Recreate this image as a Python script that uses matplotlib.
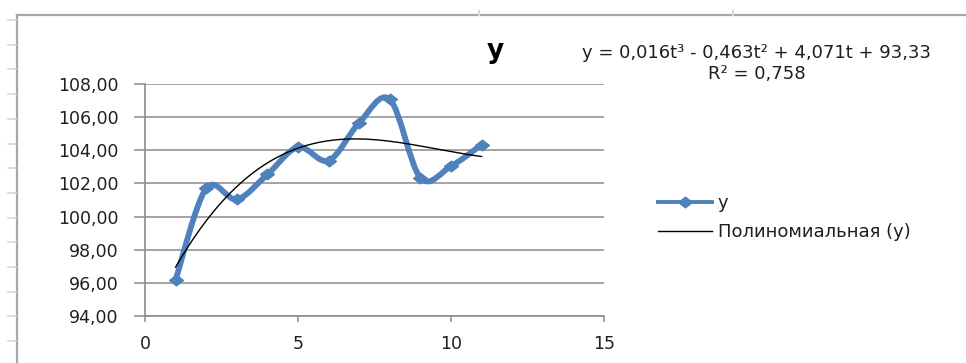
import numpy as np
import matplotlib
matplotlib.use("Agg")
import matplotlib.pyplot as plt
from matplotlib.path import Path
from matplotlib.patches import PathPatch
from matplotlib.lines import Line2D

# Series values
t_values = [1, 2, 3, 4, 5, 6, 7, 8, 9, 10, 11]
y_values = [96.18, 101.70, 101.04, 102.54, 104.19, 103.38, 105.66, 107.07, 102.34, 103.04, 104.34]
series_name = "y"
trend_name = "Полиномиальная (y)"
x_ticks = [0, 5, 10, 15]
y_ticks = [94, 96, 98, 100, 102, 104, 106, 108]

BLUE = "#4F81BD"
GRID = "#8c8c8c"
TEXT = "#1f1f1f"

W, H = 966, 363
fig = plt.figure(figsize=(W / 100, H / 100), dpi=100)
fig.patch.set_facecolor("white")

ax = fig.add_axes([145 / W, 1 - 316 / H, (604 - 145) / W, (316 - 84) / H])
ax.set_xlim(x_ticks[0], x_ticks[-1])
ax.set_ylim(y_ticks[0], y_ticks[-1])
ax.set_xticks(x_ticks)
ax.set_yticks(y_ticks)
ax.set_xticklabels([str(v) for v in x_ticks])
ax.set_yticklabels([f"{v:.2f}".replace(".", ",") for v in y_ticks])

for side in ("top", "right"):
    ax.spines[side].set_visible(False)
for side in ("left", "bottom"):
    ax.spines[side].set_color(GRID)
    ax.spines[side].set_linewidth(1.2)
ax.yaxis.grid(True, color=GRID, linewidth=1.1)
ax.xaxis.grid(False)
ax.set_axisbelow(True)
ax.tick_params(axis="y", direction="out", length=8, width=1.1, color=GRID,
               pad=11, labelsize=12.5, labelcolor=TEXT)
ax.tick_params(axis="x", direction="out", length=4, width=1.1, color=GRID,
               pad=10, labelsize=12.5, labelcolor=TEXT)

# Smoothed series line (cardinal Bezier segments through the points)
pts = np.column_stack([t_values, y_values]).astype(float)
n = len(pts)
verts = [pts[0]]
codes = [Path.MOVETO]
for i in range(n - 1):
    p_prev = pts[i - 1] if i > 0 else pts[i]
    p_next2 = pts[i + 2] if i + 2 < n else pts[i + 1]
    c1 = pts[i] + (pts[i + 1] - p_prev) / 6.0
    c2 = pts[i + 1] - (p_next2 - pts[i]) / 6.0
    verts += [c1, c2, pts[i + 1]]
    codes += [Path.CURVE4] * 3
smooth = PathPatch(Path(verts, codes), facecolor="none", edgecolor=BLUE,
                   linewidth=4.2, capstyle="round", joinstyle="round", zorder=3)
ax.add_patch(smooth)

diamond = [(-1.3, 0), (0, 1), (1.3, 0), (0, -1), (-1.3, 0)]
ax.plot(t_values, y_values, linestyle="none", marker=diamond, markersize=10,
        color=BLUE, zorder=4)

# Cubic trend line fitted to the series
coef = np.polyfit(t_values, y_values, 3)
tt = np.linspace(t_values[0], t_values[-1], 200)
ax.plot(tt, np.polyval(coef, tt), color="black", linewidth=1.0, zorder=5)
fit = np.polyval(coef, t_values)
yv = np.asarray(y_values)
r2 = 1 - np.sum((yv - fit) ** 2) / np.sum((yv - yv.mean()) ** 2)


def fmt(v, d):
    return f"{abs(v):.{d}f}".replace(".", ",")


def sgn(v):
    return "+" if v >= 0 else "-"


eq = (f"y = {fmt(coef[0], 3)}t³ {sgn(coef[1])} {fmt(coef[1], 3)}t² "
      f"{sgn(coef[2])} {fmt(coef[2], 3)}t {sgn(coef[3])} {fmt(coef[3], 2)}")
fig.text(757 / W, 1 - 53 / H, eq, ha="center", va="center", fontsize=13, color=TEXT)
fig.text(757 / W, 1 - 74 / H, f"R² = {fmt(r2, 3)}", ha="center", va="center",
         fontsize=13, color=TEXT)

# Chart title
fig.text(495 / W, 1 - 51 / H, series_name, ha="center", va="center",
         fontsize=19, fontweight="bold", color="black")

# Legend
handles = [
    Line2D([], [], color=BLUE, linewidth=2.8, marker=diamond, markersize=10),
    Line2D([], [], color="black", linewidth=1.0),
]
fig.legend(handles, [series_name, trend_name], loc="center left",
           bbox_to_anchor=(658 / W, 1 - 217.5 / H), frameon=False,
           fontsize=13, handlelength=3.0, handletextpad=0.3,
           labelspacing=0.6, borderpad=0, borderaxespad=0, labelcolor=TEXT)

# Chart frame and surrounding sheet grid marks
frame_c = "#a6a6a6"
fig.add_artist(Line2D([16.5 / W, 1], [1 - 15 / H] * 2, transform=fig.transFigure,
                      color=frame_c, linewidth=1.6))
fig.add_artist(Line2D([16.5 / W] * 2, [0, 1 - 15 / H], transform=fig.transFigure,
                      color=frame_c, linewidth=1.6))
mark_c = "#cfd8e6"
for yy in np.arange(20, H, 24.7):
    fig.add_artist(Line2D([8 / W, 15.5 / W], [1 - yy / H] * 2,
                          transform=fig.transFigure, color=mark_c, linewidth=1.2))
for xx in (479, 733):
    fig.add_artist(Line2D([xx / W] * 2, [1 - 11 / H, 1 - 14.5 / H],
                          transform=fig.transFigure, color=mark_c, linewidth=1.5))

fig.savefig("out.png", dpi=100, facecolor="white")
